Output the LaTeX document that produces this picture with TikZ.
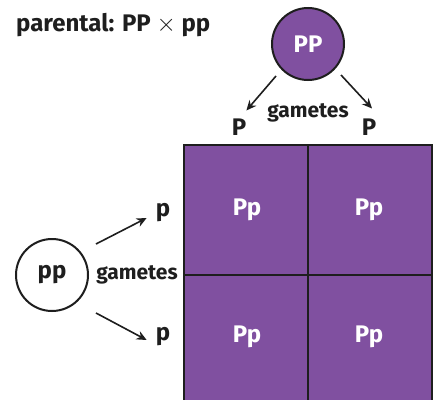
\documentclass[tikz,border=0pt]{standalone}
\usepackage{fontspec}
\setmainfont{Fira Sans}
\usetikzlibrary{arrows.meta}
\definecolor{punnett}{RGB}{128,80,160}
\definecolor{ink}{RGB}{30,30,30}
\begin{document}
\begin{tikzpicture}[x=1pt,y=-1pt,
  lbl/.style={font=\bfseries\fontsize{24}{26}\selectfont, text=ink, inner sep=0pt},
  gam/.style={font=\bfseries\fontsize{21}{23}\selectfont, text=ink, inner sep=0pt},
  cellbox/.style={draw=ink, line width=2pt, fill=punnett, minimum width=124pt, minimum height=130pt, inner sep=0pt},
  celltext/.style={font=\bfseries\fontsize{24}{26}\selectfont, text=white, inner sep=0pt},
  parent/.style={circle, draw=ink, line width=2pt, minimum size=72pt, inner sep=0pt, font=\bfseries\fontsize{24}{26}\selectfont},
  arr/.style={-{Stealth[length=10pt,width=9pt]}, line width=1.6pt, draw=ink}]
\useasboundingbox (0,0) rectangle (439,399);
\begin{scope}
\clip (0,0) rectangle (439,399);
\node[cellbox] (c11) at (246,210) {};
\node[cellbox] (c12) at (370,210) {};
\node[cellbox] (c21) at (246,340) {};
\node[cellbox] (c22) at (370,340) {};
\end{scope}
\node[celltext] (t11) at (247,210) {Pp};
\node[celltext] (t12) at (369,210) {Pp};
\node[celltext] (t21) at (247,337) {Pp};
\node[celltext] (t22) at (369,337) {Pp};
\node[lbl, anchor=west] (title) at (16,25) {parental: PP $\times$ pp};
\node[parent, fill=punnett, text=white] (PP) at (308,44) {PP};
\node[parent, fill=white, text=ink] (pp) at (52,275) {pp};
\node[lbl] (P1) at (239,127) {P};
\node[lbl] (P2) at (369,127) {P};
\node[gam] (g1) at (308,113) {gametes};
\coordinate (a1s) at (276,76);
\coordinate (a2s) at (341,75);
\draw[arr] (a1s) -- ([yshift=8pt]P1.north east);
\draw[arr] (a2s) -- ([xshift=3pt,yshift=10pt]P2.north);
\node[lbl] (p1) at (163,213) {p};
\node[lbl] (p2) at (163,337) {p};
\node[gam] (g2) at (137,275) {gametes};
\coordinate (b1s) at (96,244);
\coordinate (b2s) at (96,313);
\draw[arr] (b1s) -- ([xshift=-9pt,yshift=-5pt]p1.west);
\draw[arr] (b2s) -- ([xshift=-9pt,yshift=-3pt]p2.west);
\end{tikzpicture}
\end{document}
